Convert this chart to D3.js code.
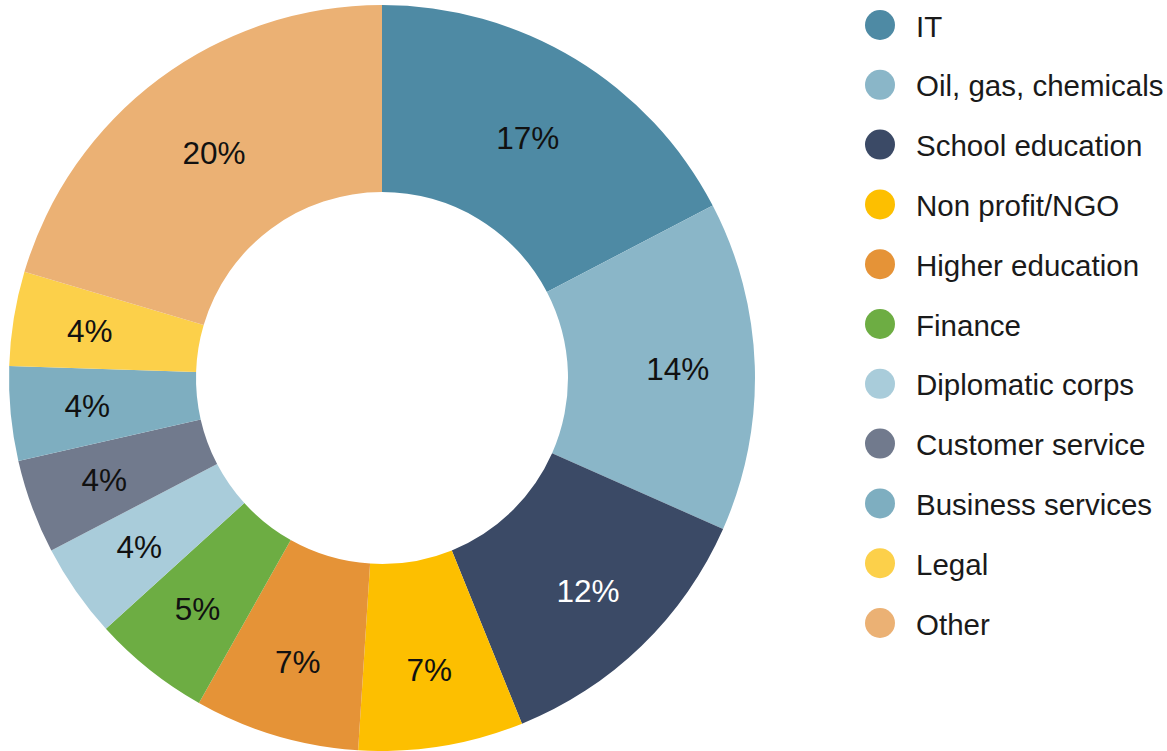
<!DOCTYPE html>
<html><head><meta charset="utf-8">
<script src="https://cdn.jsdelivr.net/npm/d3@7"></script>
<style>body{margin:0;background:#fff}svg{display:block}</style>
</head><body>
<svg id="c" width="1167" height="751"></svg>
<script>
const categories = ["IT","Oil, gas, chemicals","School education","Non profit/NGO","Higher education","Finance","Diplomatic corps","Customer service","Business services","Legal","Other"];
const values = [17,14,12,7,7,5,4,4,4,4,20];
const colors = ["#4E8AA4","#8AB6C8","#3B4A66","#FDBF00","#E59337","#6DAD43","#A9CCDA","#717A8D","#7EAEC0","#FCD04A","#EBB174"];
const labelColors = ["#111","#111","#fff","#111","#111","#111","#111","#111","#111","#111","#111"];

const svg = d3.select("#c");
const cx = 382, cy = 378, R = 373, r = 186;
const data = categories.map((c,i)=>({cat:c, v:values[i], color:colors[i], lc:labelColors[i]}));
const pie = d3.pie().value(d=>d.v).sort(null);
const arc = d3.arc().innerRadius(r).outerRadius(R);
const g = svg.append("g").attr("transform",`translate(${cx},${cy})`);
const arcs = pie(data);
g.selectAll("path").data(arcs).join("path").attr("d",arc).attr("fill",d=>d.data.color);
function labelPos(d){
  const lr = d.data.v >= 15 ? 281 : 296;
  const a = (d.startAngle + d.endAngle)/2;
  return [lr*Math.sin(a), -lr*Math.cos(a)];
}
g.selectAll("text").data(arcs).join("text")
  .attr("transform",d=>`translate(${labelPos(d)})`)
  .attr("text-anchor","middle").attr("dominant-baseline","central")
  .attr("font-family","Liberation Sans, Arial, sans-serif").attr("font-size",31.5)
  .attr("fill",d=>d.data.lc)
  .text(d=>d.data.v+"%");

const leg = svg.append("g");
const ly = d3.scalePoint().domain(categories).range([25,623]);
const items = leg.selectAll("g").data(data).join("g").attr("transform",d=>`translate(0,${ly(d.cat)})`);
items.append("circle").attr("cx",880).attr("cy",0).attr("r",15).attr("fill",d=>d.color);
items.append("text").attr("x",916).attr("y",1).attr("dominant-baseline","central")
  .attr("font-family","Liberation Sans, Arial, sans-serif").attr("font-size",29.5).attr("fill","#1a1a1a")
  .text(d=>d.cat);
</script>
</body></html>
